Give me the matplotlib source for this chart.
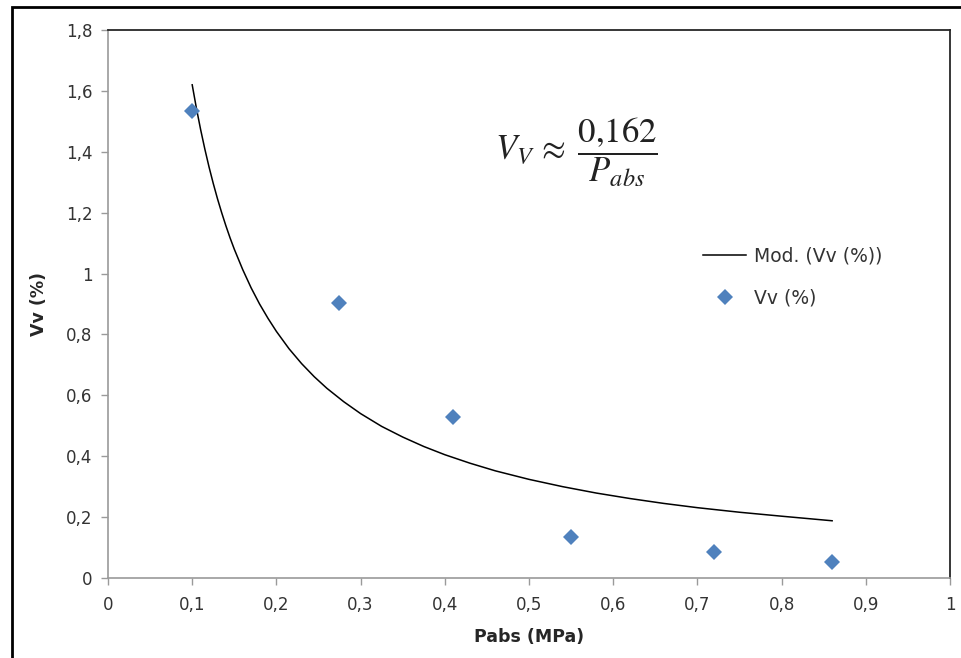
import matplotlib
matplotlib.use('Agg')

import matplotlib.pyplot as plt
from matplotlib.patches import Rectangle
from matplotlib.ticker import FuncFormatter

plt.rcParams.update({
    'font.family': 'DejaVu Sans',
    'font.size': 12,
    'mathtext.fontset': 'stix',
})

# measured points
p_abs = [0.10, 0.274, 0.41, 0.55, 0.72, 0.86]
vv_pct = [1.535, 0.902, 0.53, 0.135, 0.085, 0.053]

# model curve
mod_x = [0.100, 0.105, 0.110, 0.115, 0.120, 0.125, 0.130, 0.135, 0.140,
         0.145, 0.150, 0.160, 0.170, 0.180, 0.190, 0.200, 0.215, 0.230,
         0.245, 0.260, 0.280, 0.300, 0.325, 0.350, 0.375, 0.400, 0.430,
         0.460, 0.500, 0.540, 0.580, 0.620, 0.660, 0.700, 0.750, 0.800,
         0.860]
mod_y = [1.620, 1.543, 1.473, 1.409, 1.350, 1.296, 1.246, 1.200, 1.157,
         1.117, 1.080, 1.013, 0.953, 0.900, 0.853, 0.810, 0.753, 0.704,
         0.661, 0.623, 0.579, 0.540, 0.498, 0.463, 0.432, 0.405, 0.377,
         0.352, 0.324, 0.300, 0.279, 0.261, 0.245, 0.231, 0.216, 0.203,
         0.188]

x_ticks = [0, 0.1, 0.2, 0.3, 0.4, 0.5, 0.6, 0.7, 0.8, 0.9, 1.0]
y_ticks = [0, 0.2, 0.4, 0.6, 0.8, 1.0, 1.2, 1.4, 1.6, 1.8]

_BLUE = '#4F81BD'
_AXIS = '#9a9a9a'
_TEXT = '#333333'

W, H = 961, 658
fig = plt.figure(figsize=(W / 100, H / 100), dpi=100, facecolor='white')
ax = fig.add_axes([108 / W, 1 - 578 / H, (950 - 108) / W, (578 - 30) / H])

# outer frame (runs off the right and bottom edges)
fig.patches.append(Rectangle((12 / W, -0.2), 1.2, 1.2 - 7 / H,
                             transform=fig.transFigure, fill=False,
                             edgecolor='black', linewidth=2.0))

ax.plot(mod_x, mod_y, color='black', lw=1.1, label='Mod. (Vv (%))', zorder=3)
ax.plot(p_abs, vv_pct, linestyle='none', marker='D', markersize=8,
        color=_BLUE, markeredgewidth=0, label='Vv (%)', zorder=4)

ax.set_xlim(0, 1)
ax.set_ylim(0, 1.8)
ax.set_xticks(x_ticks)
ax.set_yticks(y_ticks)
fmt = FuncFormatter(lambda v, _: f'{v:g}'.replace('.', ','))
ax.xaxis.set_major_formatter(fmt)
ax.yaxis.set_major_formatter(fmt)
ax.tick_params(direction='out', length=5, width=1, color=_AXIS,
               labelcolor=_TEXT, labelsize=12)
ax.tick_params(axis='x', pad=8)
ax.tick_params(axis='y', pad=6)

for side in ('left', 'bottom'):
    ax.spines[side].set_color(_AXIS)
    ax.spines[side].set_linewidth(1.2)
for side in ('top', 'right'):
    ax.spines[side].set_color('#262626')
    ax.spines[side].set_linewidth(1.3)

ax.set_xlabel('Pabs (MPa)', fontweight='bold', fontsize=12.5, color='#262626',
              labelpad=10)
ax.set_ylabel('Vv (%)', fontweight='bold', fontsize=12.5, color='#262626',
              labelpad=13)

ax.text(0.556, 1.40, r'$V_V\,\approx\;\dfrac{0{,}162}{P_{abs}}$', fontsize=25,
        ha='center', va='center', color='#222222')

ax.legend(loc='center left', bbox_to_anchor=(0.687, 0.549), frameon=False,
          fontsize=13.5, handlelength=2.3, handletextpad=0.4,
          labelspacing=1.2, labelcolor=_TEXT)

fig.savefig('out.png', dpi=100, facecolor='white')
